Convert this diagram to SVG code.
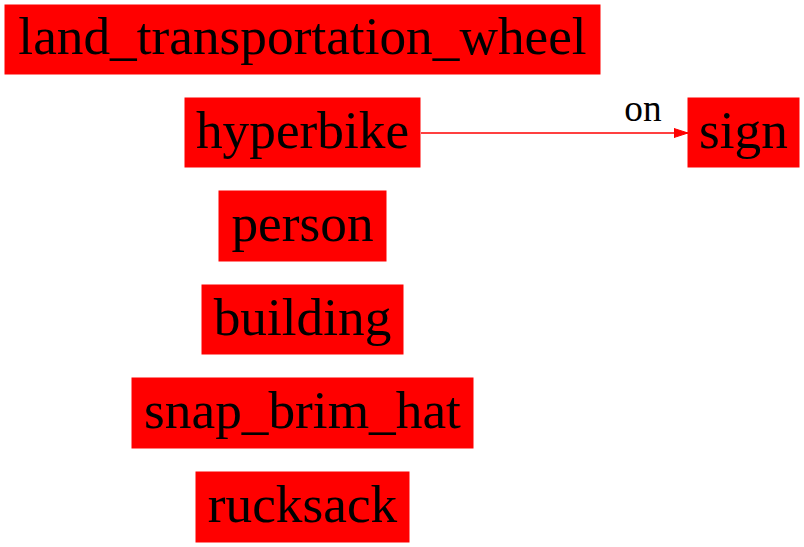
<svg xmlns="http://www.w3.org/2000/svg" width="804" height="547" viewBox="0 0 804 547">
<defs>
<style>
.n rect{fill:#ff0000;stroke:#ff0000;stroke-width:1}
.n text{font-family:"Liberation Serif","Times New Roman",serif;font-size:53.3px;fill:#000;text-anchor:middle}
.e line{stroke:#ff0000;stroke-width:1.3}
.e text{font-family:"Liberation Serif","Times New Roman",serif;font-size:37.3px;fill:#000;text-anchor:middle}
</style>
<marker id="ah" markerWidth="14" markerHeight="10" refX="14" refY="5" orient="auto" markerUnits="userSpaceOnUse">
<path d="M0,0.5 L14,5 L0,9.5 Z" fill="#ff0000" stroke="#ff0000" stroke-width="1"/>
</marker>
</defs>
<rect width="804" height="547" fill="#ffffff"/>
<g id="edges" class="e">
<line x1="421" y1="133" x2="688" y2="133" marker-end="url(#ah)"/>
<text x="643" y="121">on</text>
</g>
<g id="land_transportation_wheel" class="n">
<rect x="5" y="5" width="595" height="69"/>
<text x="302.5" y="54">land_transportation_wheel</text>
</g>
<g id="hyperbike" class="n">
<rect x="185" y="98" width="235" height="69"/>
<text x="302.5" y="148">hyperbike</text>
</g>
<g id="sign" class="n">
<rect x="688" y="98" width="111" height="69"/>
<text x="743.5" y="148">sign</text>
</g>
<g id="person" class="n">
<rect x="219" y="191" width="167" height="70"/>
<text x="302.5" y="241">person</text>
</g>
<g id="building" class="n">
<rect x="202" y="285" width="201" height="69"/>
<text x="302.5" y="335">building</text>
</g>
<g id="snap_brim_hat" class="n">
<rect x="132" y="378" width="341" height="70"/>
<text x="302.5" y="428">snap_brim_hat</text>
</g>
<g id="rucksack" class="n">
<rect x="196" y="472" width="213" height="70"/>
<text x="302.5" y="522">rucksack</text>
</g>
</svg>
